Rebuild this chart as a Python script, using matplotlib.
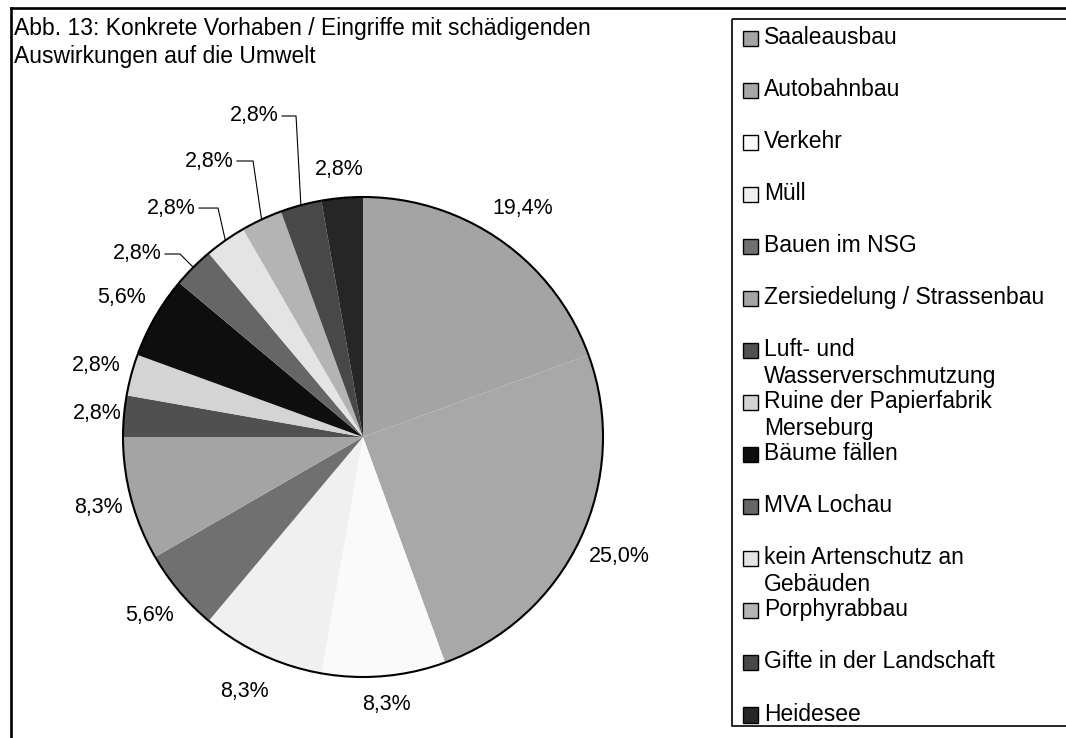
import matplotlib
matplotlib.use("Agg")
import matplotlib.pyplot as plt
from matplotlib.patches import Rectangle, Circle
import numpy as np

plt.rcParams['font.family'] = ['Liberation Sans', 'DejaVu Sans']

# ---- data ----
categories = ["Saaleausbau", "Autobahnbau", "Verkehr", "Müll", "Bauen im NSG",
              "Zersiedelung / Strassenbau", "Luft- und\nWasserverschmutzung",
              "Ruine der Papierfabrik\nMerseburg", "Bäume fällen", "MVA Lochau",
              "kein Artenschutz an\nGebäuden", "Porphyrabbau",
              "Gifte in der Landschaft", "Heidesee"]
counts = [7, 9, 3, 3, 2, 3, 1, 1, 2, 1, 1, 1, 1, 1]
colors = ["#a4a4a4", "#a8a8a8", "#fafafa", "#f0f0f0", "#707070", "#a4a4a4",
          "#505050", "#d4d4d4", "#0e0e0e", "#666666", "#e4e4e4", "#b4b4b4",
          "#484848", "#262626"]
title = "Abb. 13: Konkrete Vorhaben / Eingriffe mit schädigenden\nAuswirkungen auf die Umwelt"

# label layout: radial factor for plain labels, None for leader-line labels
label_r = [1.16, 1.18, 1.12, 1.17, 1.16, 1.14, 1.11, 1.15, 1.16, None, None, None, None, 1.12]
# elbow of leader lines (in pie radius units) and end x of horizontal segment
leader = {9: (-0.7625, 0.7625, -0.825),
          10: (-0.604, 0.954, -0.683),
          11: (-0.458, 1.15, -0.525),
          12: (-0.279, 1.3375, -0.3375)}

W, H = 1066, 738
TXT = 16.5
LAB = 15.5
fig = plt.figure(figsize=(W / 100, H / 100), dpi=100)
fig.patch.set_facecolor("white")

# figure frame
bg = fig.add_axes([0, 0, 1, 1])
bg.set_xlim(0, W)
bg.set_ylim(H, 0)
bg.axis("off")
bg.plot([10.8, 10.8], [H + 5, 8], color="black", lw=1.9, solid_capstyle="projecting")
bg.plot([10.8, W + 5], [8, 8], color="black", lw=1.9, solid_capstyle="projecting")

# title
bg.text(14, 17.5, title, fontsize=TXT, ha="left", va="top", linespacing=1.27)

# pie axes: center (363, 437) px, radius 240 px
cx, cy, R = 363, 437, 240
ax = fig.add_axes([(cx - R) / W, (H - cy - R) / H, 2 * R / W, 2 * R / H])
wedges, _ = ax.pie(counts, colors=colors, startangle=90, counterclock=False,
                   radius=1, wedgeprops=dict(linewidth=0))
ax.set_xlim(-1, 1)
ax.set_ylim(-1, 1)
ax.set_aspect("equal")
ax.axis("off")
ax.add_patch(Circle((0, 0), 1, fill=False, edgecolor="black", lw=1.5, clip_on=False))

total = sum(counts)
for i, w in enumerate(wedges):
    pct = counts[i] / total * 100
    txt = f"{pct:.1f}%".replace(".", ",")
    mid = np.deg2rad((w.theta1 + w.theta2) / 2)
    if label_r[i] is not None:
        r = label_r[i]
        ax.text(r * np.cos(mid), r * np.sin(mid), txt, ha="center", va="center",
                fontsize=LAB, clip_on=False)
    else:
        ex, ey, endx = leader[i]
        sx, sy = np.cos(mid), np.sin(mid)
        ax.plot([sx, ex, endx], [sy, ey, ey], color="black", lw=0.8, clip_on=False)
        ax.text(endx - 0.015, ey, txt, ha="right", va="center", fontsize=LAB, clip_on=False)

# legend (manual)
bg.add_patch(Rectangle((731.5, 19), 400, 707, fill=False, edgecolor="black", lw=1.2))
y0, dy = 38.5, 52.04
for i, (lab, col) in enumerate(zip(categories, colors)):
    y = y0 + i * dy
    bg.add_patch(Rectangle((742.5, y - 8), 15.5, 15.5, facecolor=col, edgecolor="black", lw=1.0))
    bg.text(764, y - 12.5, lab, ha="left", va="top", fontsize=TXT, linespacing=1.22)

fig.savefig("out.png", dpi=100)
